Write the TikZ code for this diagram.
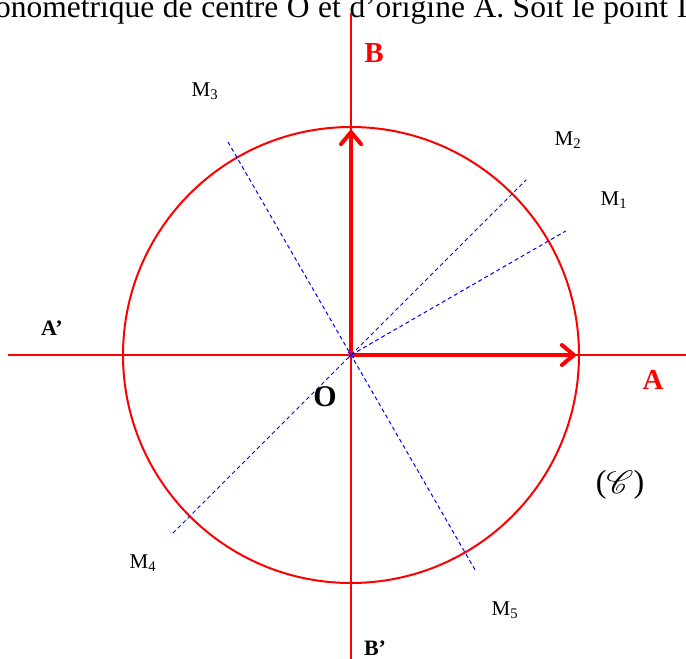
\documentclass[tikz,border=0pt]{standalone}
\usepackage{fontspec}
\setmainfont{Liberation Serif}
\usepackage{mathrsfs}
\usetikzlibrary{arrows.meta,calc}
\begin{document}
\begin{tikzpicture}[x=1pt,y=-1pt,
  axis/.style={red, line width=2pt},
  vec/.style={red, line width=4pt, -{Straight Barb[length=12pt,width=20pt,line cap=round]}},
  dline/.style={blue, line width=1pt, dash pattern=on 4pt off 3pt},
  lab/.style={inner sep=0pt, font=\fontsize{21}{24}\selectfont},
  blab/.style={inner sep=0pt, font=\bfseries\fontsize{22}{26}\selectfont},
  rlab/.style={inner sep=0pt, red, font=\bfseries\fontsize{29}{32}\selectfont},
]
\useasboundingbox (0,0) rectangle (686,659);
\clip (0,0) rectangle (686,659);
\node[anchor=base west, inner sep=0pt, font=\fontsize{31.5}{34}\selectfont] (txt) at (-5,17) {\makebox[692pt][s]{onométrique de centre O et d’origine A. Soit le point I}};
\coordinate (O) at (351,355);
\coordinate (Ap) at (8,355);
\coordinate (Aend) at (686,355);
\coordinate (Btop) at (351,13);
\coordinate (Bbot) at (351,659);
\draw[axis] (Ap) -- (Aend);
\draw[axis] (Btop) -- (Bbot);
\draw[axis] (O) circle[radius=228pt];
\coordinate (A) at ([shift={(O)}]0:226);
\coordinate (B) at ([shift={(O)}]-90:226);
\draw[vec] (O) -- (A);
\draw[vec] (O) -- (B);
\coordinate (M1) at ([shift={(O)}]-30:248);
\coordinate (M2) at ([shift={(O)}]-45:248);
\coordinate (M3) at ([shift={(O)}]-120:246);
\coordinate (M4) at ([shift={(O)}]135:252);
\coordinate (M5) at ([shift={(O)}]60:248);
\draw[dline] (O) -- (M1);
\draw[dline] (M4) -- (M2);
\draw[dline] (M3) -- (M5);
\draw[blue, line width=1pt] ($(O)+(-3,-3)$) -- ($(O)+(3,3)$);
\draw[blue, line width=1pt] ($(O)+(-3,3)$) -- ($(O)+(3,-3)$);
\node[lab] (lM1) at (614,200) {M\textsubscript{1}};
\node[lab] (lM2) at (568,140) {M\textsubscript{2}};
\node[lab] (lM3) at (205,91) {M\textsubscript{3}};
\node[lab] (lM4) at (143,563) {M\textsubscript{4}};
\node[lab] (lM5) at (505,610) {M\textsubscript{5}};
\node[rlab] (lA) at (653,380) {A};
\node[rlab] (lB) at (374,53) {B};
\node[blab] (lAp) at (52,328) {A’};
\node[blab] (lBp) at (375,648) {B’};
\node[inner sep=0pt, font=\bfseries\fontsize{30}{34}\selectfont] (lO) at (325,397) {O};
\node[inner sep=0pt, font=\fontsize{32}{36}\selectfont] (lC) at (620,485) {(\raisebox{-1pt}{\scalebox{1.3}{$\mathscr{C}$}})};
\end{tikzpicture}
\end{document}
